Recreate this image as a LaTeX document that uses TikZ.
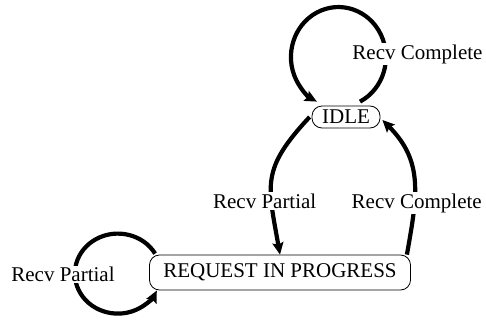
\documentclass[tikz,border=0pt]{standalone}
\usepackage{fontspec}
\setmainfont{Liberation Serif}
\usetikzlibrary{arrows.meta}
\begin{document}
\begin{tikzpicture}[x=1bp,y=1bp,
  txt/.style={font=\fontsize{21bp}{25bp}\selectfont},
  state/.style={txt, draw, line width=0.8bp, rounded corners=10bp, inner sep=0pt},
  edge/.style={line width=4.2bp, -{Stealth[length=12bp,width=11bp,inset=2bp]}},
  lbl/.style={txt, fill=white, inner sep=1.5bp, anchor=base}]
\useasboundingbox (0,0) rectangle (486,324);

% states
\node[state, minimum width=68bp, minimum height=22bp] (idle) at (346,207) {IDLE};
\node[state, minimum width=261bp, minimum height=35bp] (req) at (280,51.5) {REQUEST IN PROGRESS};

% transitions
\draw[edge] ([shift={(14bp,4bp)}]idle.north)
  arc[start angle=-63, end angle=243, x radius=47.5bp, y radius=50bp];
\draw[edge] ([xshift=-2bp]idle.west) to[out=227, in=100, looseness=1.3] (req.north);
\draw[edge] ([xshift=-4bp]req.north east) to[out=80, in=-45, looseness=1.1]
  ([shift={(2bp,-3bp)}]idle.east);
\draw[edge] ([shift={(6bp,1bp)}]req.north west)
  arc[start angle=30, end angle=335, x radius=43bp, y radius=40bp];

% transition labels
\node[lbl] (lidle) at (417.5,265) {Recv Complete};
\node[lbl] (lpart) at (264.7,115.7) {Recv Partial};
\node[lbl] (ldone) at (416.7,115.7) {Recv Complete};
\node[lbl] (lreq) at (63,42.3) {Recv Partial};
\end{tikzpicture}
\end{document}
